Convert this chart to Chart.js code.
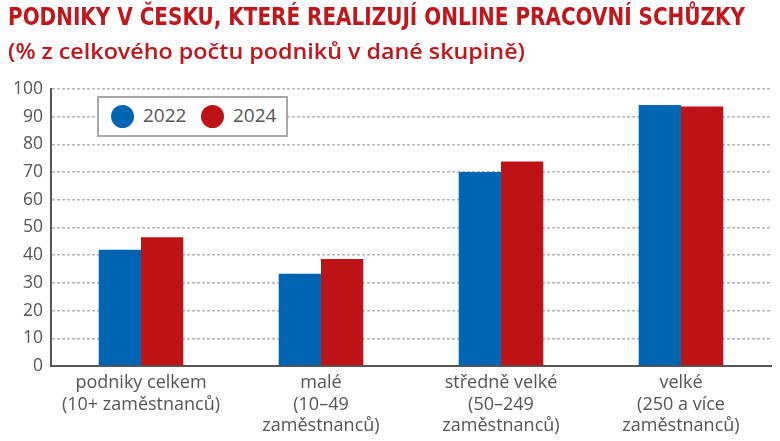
<!DOCTYPE html>
<html><head><meta charset="utf-8">
<script src="https://cdn.jsdelivr.net/npm/chart.js@4/dist/chart.umd.min.js"></script>
<style>
html,body{margin:0;padding:0;background:#fff;}
#wrap{position:relative;width:780px;height:441px;overflow:hidden;}
canvas{position:absolute;left:0;top:0;}
.t{position:absolute;left:8px;white-space:nowrap;color:#c0161c;transform-origin:0 0;}
#t1{top:3px;font-family:"Liberation Sans Narrow","DejaVu Sans Condensed",sans-serif;font-weight:bold;font-size:24px;}
#t2{top:35px;font-family:"Open Sans",sans-serif;font-weight:600;font-size:22px;}
#legend{position:absolute;left:97px;top:96px;width:187px;height:37px;border:2px solid #a8a8a8;background:#fff;font-family:"Open Sans",sans-serif;font-size:19px;color:#555;}
.dot{position:absolute;top:7px;width:23px;height:23px;border-radius:50%;}
.lt{position:absolute;top:-1px;height:37px;line-height:37px;}
</style></head>
<body><div id="wrap">
<canvas id="c" width="780" height="441"></canvas>
<div class="t" id="t1">PODNIKY V ČESKU, KTERÉ REALIZUJÍ ONLINE PRACOVNÍ SCHŮZKY</div>
<div class="t" id="t2">(% z celkového počtu podniků v dané skupině)</div>
<div id="legend"></div>
</div>
<script>
const categories = [
  ["podniky celkem","(10+ zaměstnanců)"],
  ["malé","(10–49","zaměstnanců)"],
  ["středně velké","(50–249","zaměstnanců)"],
  ["velké","(250 a více","zaměstnanců)"]
];
const seriesNames = ["2022","2024"];
const values2022 = [42, 33.3, 70, 94.2];
const values2024 = [46.5, 38.6, 73.8, 93.7];
const yTicks = [0,10,20,30,40,50,60,70,80,90,100];
const colors = ["#0066b3","#bd1316"];

function fit(id,w){const el=document.getElementById(id);const r=el.getBoundingClientRect().width;el.style.transform='scaleX('+(w/r)+')';}
fit('t1',737); fit('t2',517);

const lg=document.getElementById('legend');
const lpos=[[12,44],[102,134]];
seriesNames.forEach((n,i)=>{
  const d=document.createElement('div');d.className='dot';d.style.left=lpos[i][0]+'px';d.style.background=colors[i];lg.appendChild(d);
  const t=document.createElement('div');t.className='lt';t.style.left=lpos[i][1]+'px';t.textContent=n;lg.appendChild(t);
});

const gridColor='#b5b5b5', axisColor='#555555', tickColor='#555555';
new Chart(document.getElementById('c'),{
  type:'bar',
  data:{labels:categories,datasets:[
    {label:seriesNames[0],data:values2022,backgroundColor:colors[0],categoryPercentage:0.47,barPercentage:1},
    {label:seriesNames[1],data:values2024,backgroundColor:colors[1],categoryPercentage:0.47,barPercentage:1}
  ]},
  options:{
    responsive:false,animation:false,devicePixelRatio:1,
    layout:{padding:{top:89,right:9,left:0,bottom:0}},
    plugins:{legend:{display:false},tooltip:{enabled:false},title:{display:false}},
    scales:{
      x:{
        grid:{display:false,drawTicks:false},
        border:{display:true,color:axisColor,width:2},
        ticks:{color:tickColor,font:{family:'"Open Sans", sans-serif',size:18,lineHeight:1.2},padding:6,maxRotation:0,autoSkip:false},
        afterFit:s=>{s.height=75;}
      },
      y:{
        min:0,max:100,
        afterBuildTicks:s=>{s.ticks=yTicks.map(v=>({value:v}));},
        grid:{color:gridColor,lineWidth:1.5,drawTicks:false},
        border:{display:true,color:axisColor,width:2,dash:[3,2]},
        ticks:{color:tickColor,font:{family:'"Open Sans", sans-serif',size:17.5},padding:8},
        afterFit:s=>{s.width=51;}
      }
    }
  }
});
</script>
</body></html>
